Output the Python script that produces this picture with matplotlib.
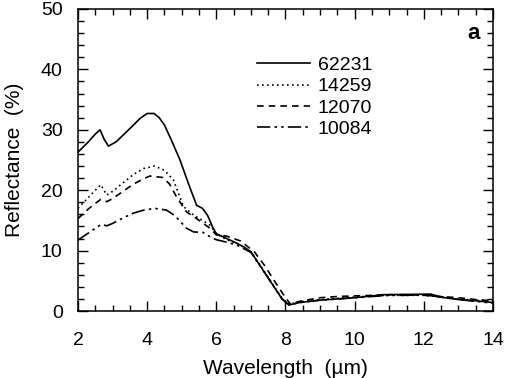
import matplotlib
matplotlib.use("Agg")
import matplotlib.pyplot as plt
from matplotlib.ticker import MultipleLocator

plt.rcParams['font.family'] = ['Liberation Sans', 'DejaVu Sans']

# sample 62231 (solid)
x_62231 = [2.0, 2.3, 2.5, 2.64, 2.75, 2.88, 3.1, 3.5, 3.8, 4.0, 4.2, 4.35, 4.5, 4.7, 4.95,
           5.2, 5.43, 5.6, 5.75, 5.9, 6.0, 6.3, 6.6, 6.8, 7.0, 7.3, 7.6, 7.9, 8.1, 8.4,
           9.0, 9.5, 10.0, 10.5, 10.8, 11.5, 12.2, 12.5, 13.0, 13.5, 14.0]
y_62231 = [26.3, 28.0, 29.3, 30.0, 28.5, 27.3, 28.0, 30.2, 31.9, 32.7, 32.7, 32.0, 30.8, 28.3, 25.0,
           21.0, 17.5, 17.0, 15.8, 13.8, 12.8, 12.0, 11.2, 10.6, 9.8, 7.2, 4.6, 2.0, 1.0, 1.4,
           1.8, 2.0, 2.2, 2.5, 2.7, 2.75, 2.8, 2.3, 1.9, 1.7, 1.4]

# sample 14259 (dotted)
x_14259 = [2.0, 2.3, 2.5, 2.66, 2.83, 3.0, 3.3, 3.6, 3.9, 4.22, 4.5, 4.76, 5.05, 5.34, 5.6,
           5.82, 6.0, 6.3, 6.6, 7.0, 7.3, 7.6, 7.9, 8.1, 8.4, 9.0, 9.5, 10.0, 10.5, 11.0,
           11.5, 12.0, 12.5, 13.0, 13.5, 14.0]
y_14259 = [17.0, 18.8, 20.0, 20.9, 19.2, 19.8, 21.2, 22.6, 23.6, 24.0, 23.3, 21.7, 17.3, 15.9, 15.0,
           14.2, 12.8, 11.8, 11.2, 9.8, 7.3, 4.7, 2.1, 1.1, 1.5, 1.9, 2.1, 2.3, 2.5, 2.6,
           2.6, 2.6, 2.3, 2.0, 1.8, 1.6]

# sample 12070 (dashed)
x_12070 = [2.0, 2.3, 2.5, 2.66, 2.83, 3.0, 3.3, 3.6, 3.9, 4.08, 4.46, 4.65, 4.85, 5.14, 5.43,
           5.6, 5.82, 6.0, 6.3, 6.7, 7.1, 7.4, 7.7, 8.0, 8.15, 8.4, 9.0, 9.5, 10.0, 10.5,
           11.0, 11.5, 12.0, 12.5, 13.0, 13.5, 14.0]
y_12070 = [15.3, 16.9, 17.8, 18.5, 18.1, 18.6, 19.8, 21.0, 21.9, 22.35, 22.1, 21.0, 18.9, 16.4, 15.3,
           14.6, 13.7, 12.6, 12.4, 11.6, 9.8, 7.5, 4.8, 2.2, 1.1, 1.6, 2.2, 2.4, 2.5, 2.6,
           2.7, 2.7, 2.6, 2.4, 2.2, 1.9, 1.7]

# sample 10084 (dash-dot-dot)
x_10084 = [2.0, 2.3, 2.5, 2.68, 2.83, 3.0, 3.3, 3.6, 3.9, 4.22, 4.56, 4.8, 5.14, 5.34, 5.62,
           5.85, 6.0, 6.3, 6.6, 7.0, 7.3, 7.6, 7.9, 8.1, 8.4, 9.0, 9.5, 10.0, 10.5, 11.0,
           11.5, 12.0, 12.5, 13.0, 13.5, 14.0]
y_10084 = [11.75, 12.9, 13.7, 14.35, 14.1, 14.5, 15.4, 16.2, 16.7, 17.0, 16.7, 15.8, 13.7, 13.1, 13.0,
           12.2, 11.8, 11.4, 10.9, 9.7, 7.2, 4.6, 2.0, 1.0, 1.4, 1.8, 2.0, 2.2, 2.4, 2.6,
           2.6, 2.7, 2.3, 1.9, 1.6, 1.3]

fig = plt.figure(figsize=(5.07, 3.78), dpi=100)
ax = fig.add_axes([0.1538, 0.1772, 0.8186, 0.799])

ax.plot(x_62231, y_62231, color='black', lw=1.2, ls='-', label='62231')
ax.plot(x_14259, y_14259, color='black', lw=1.2, ls=(0, (1, 2)), label='14259')
ax.plot(x_12070, y_12070, color='black', lw=1.2, ls=(0, (4, 3)), label='12070')
ax.plot(x_10084, y_10084, color='black', lw=1.2, ls=(0, (8, 2.5, 1.5, 2.5, 1.5, 2.5)), label='10084')

ax.set_xlim(2, 14)
ax.set_ylim(0, 50)
ax.xaxis.set_major_locator(MultipleLocator(2))
ax.xaxis.set_minor_locator(MultipleLocator(0.5))
ax.yaxis.set_major_locator(MultipleLocator(10))
ax.yaxis.set_minor_locator(MultipleLocator(2))
ax.tick_params(which='both', direction='in', top=True, right=True, width=1)
ax.tick_params(which='major', length=7, labelsize=14)
ax.tick_params(which='minor', length=4)
ax.tick_params(axis='x', which='major', pad=15)
ax.tick_params(axis='y', which='major', pad=11)
for s in ax.spines.values():
    s.set_linewidth(1.1)

ax.set_xlabel('Wavelength  (\u00b5m)', fontsize=15, labelpad=7)
ax.set_ylabel('Reflectance  (%)', fontsize=15, labelpad=12)

ax.text(0.952, 0.92, 'a', transform=ax.transAxes, fontsize=16, fontweight='bold',
        ha='center', va='center')

ax.legend(loc='upper left', bbox_to_anchor=(0.431, 0.843), frameon=False, fontsize=14,
          handlelength=2.73, handletextpad=0.4, labelspacing=0.19, borderpad=0,
          borderaxespad=0)

fig.savefig('out.png', dpi=100)
